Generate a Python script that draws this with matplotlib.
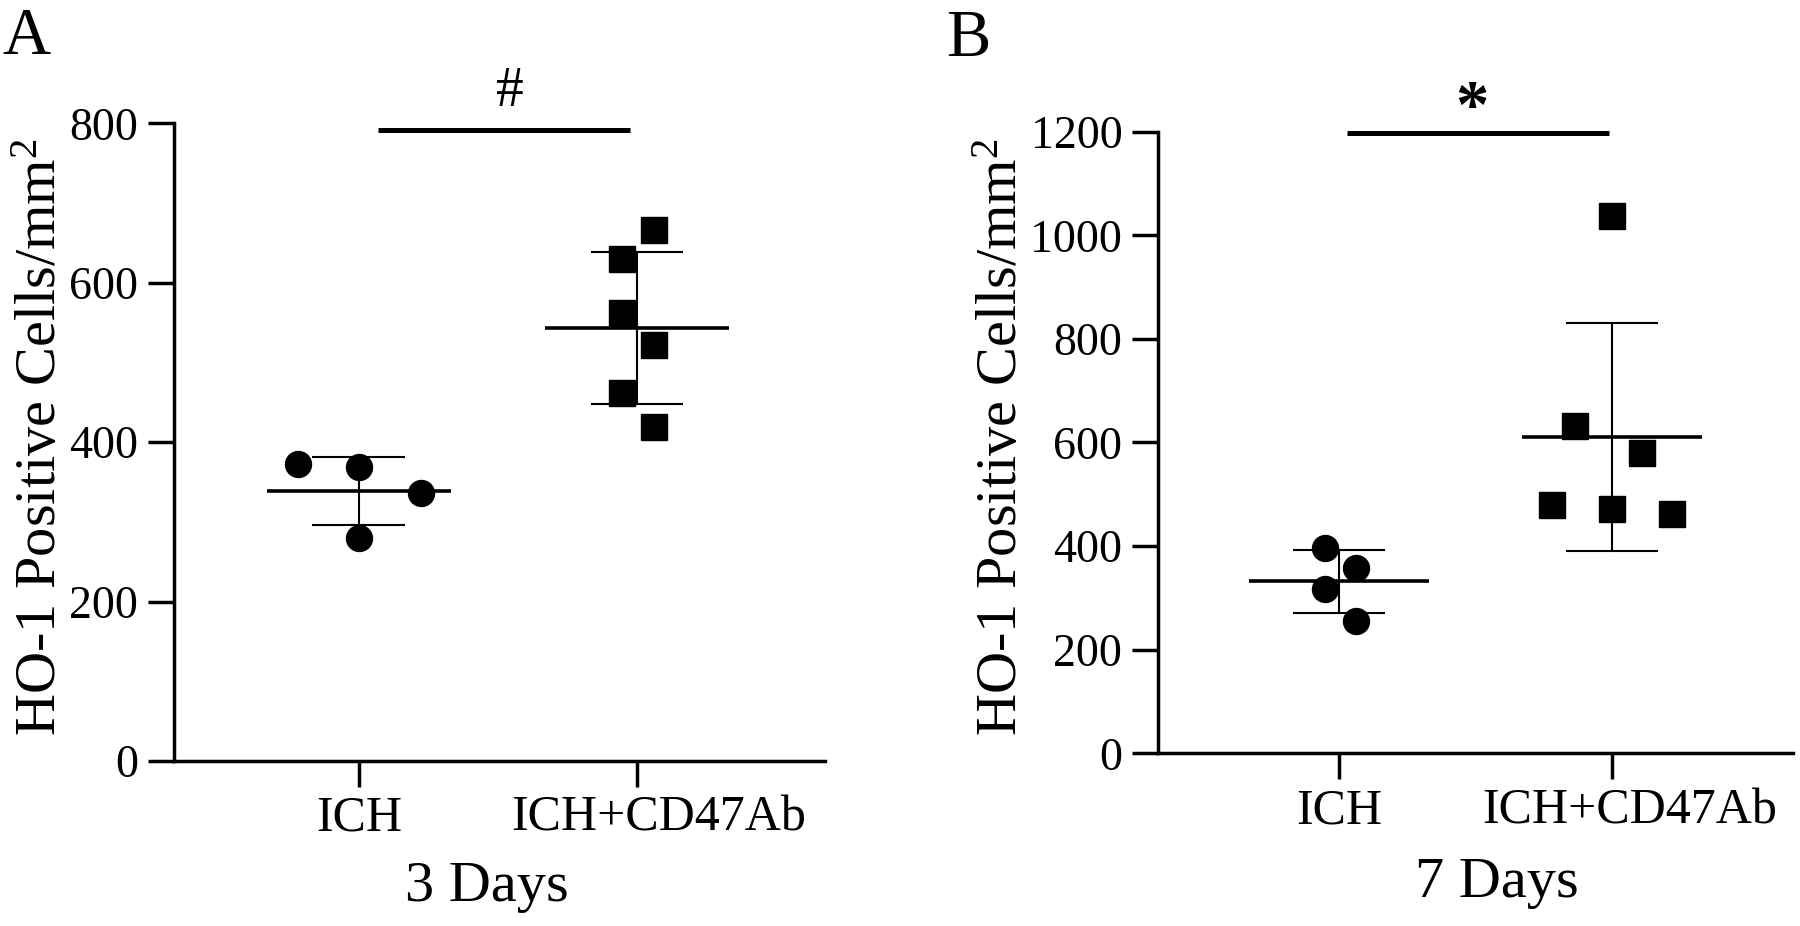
import numpy as np
import matplotlib
matplotlib.use("Agg")
import matplotlib.pyplot as plt
from matplotlib.transforms import ScaledTranslation

plt.rcParams['font.family'] = ['Liberation Serif', 'DejaVu Serif']
plt.rcParams['mathtext.fontset'] = 'custom'
plt.rcParams['mathtext.rm'] = 'Liberation Serif'
plt.rcParams['mathtext.it'] = 'Liberation Serif:italic'

# ---- data ----
groups = ["ICH", "ICH+CD47Ab"]
a_ich = [372, 369, 336, 280]
a_cd47 = [666, 630, 562, 522, 462, 419]
b_ich = [397, 358, 317, 256]
b_cd47 = [1037, 631, 579, 479, 472, 462]
a_yticks = [0, 200, 400, 600, 800]
b_yticks = [0, 200, 400, 600, 800, 1000, 1200]
a_xlabel = "3 Days"
b_xlabel = "7 Days"
a_sig = "#"
b_sig = "*"
ylabel = r"HO-1 Positive Cells/mm$^{\mathrm{2}}$"

# jitter (horizontal scatter offsets, in category units)
a_ich_jit = [-0.22, 0.0, 0.223, 0.0]
a_cd47_jit = [0.06, -0.055, -0.055, 0.06, -0.055, 0.06]
b_ich_jit = [-0.053, 0.063, -0.053, 0.063]
b_cd47_jit = [0.0, -0.136, 0.11, -0.22, 0.0, 0.22]

W, H = 1800, 926
fig = plt.figure(figsize=(W / 100, H / 100), dpi=100)


def px_axes(x0, x1, ytop, ybot):
    return fig.add_axes([x0 / W, 1 - ybot / H, (x1 - x0) / W, (ybot - ytop) / H])


def panel(ax, d0, d1, j0, j1, ymax, yticks, xlim, sig, sigy, sigx, shift_px):
    for i, (vals, jit, mk) in enumerate([(d0, j0, 'o'), (d1, j1, 's')]):
        v = np.array(vals, float)
        m, sd = v.mean(), v.std(ddof=1)
        ax.plot(i + np.array(jit), v, linestyle='none', marker=mk, ms=18.7,
                color='black', zorder=3, clip_on=False)
        ax.plot([i - 0.33, i + 0.33], [m, m], color='black', lw=2.6, zorder=4,
                solid_capstyle='butt')
        ax.plot([i, i], [m - sd, m + sd], color='black', lw=1.5, zorder=2)
        for yy in (m - sd, m + sd):
            ax.plot([i - 0.167, i + 0.167], [yy, yy], color='black', lw=1.5,
                    zorder=2, solid_capstyle='butt')
    ax.plot(sigx, [sigy, sigy], color='black', lw=3.6, clip_on=False,
            solid_capstyle='butt')
    ax.set_xlim(*xlim)
    ax.set_ylim(0, ymax)
    ax.set_yticks(yticks)
    ax.set_xticks([0, 1])
    ax.set_xticklabels(groups)
    for s in ('top', 'right'):
        ax.spines[s].set_visible(False)
    for s in ('left', 'bottom'):
        ax.spines[s].set_linewidth(2.5)
    ax.tick_params(axis='both', length=18.7, width=2.5, labelsize=33, pad=7)
    ax.tick_params(axis='x', pad=6, labelsize=36)
    lab = ax.get_xticklabels()[1]
    lab.set_transform(lab.get_transform() + ScaledTranslation(shift_px / 100, 0, fig.dpi_scale_trans))


axA = px_axes(174, 825, 123.3, 761)
panel(axA, a_ich, a_cd47, a_ich_jit, a_cd47_jit, 800, a_yticks,
      (-0.665, 1.676), a_sig, 791, [0.068, 0.975], 22)
axB = px_axes(1158, 1793, 131.7, 753.3)
panel(axB, b_ich, b_cd47, b_ich_jit, b_cd47_jit, 1200, b_yticks,
      (-0.663, 1.663), b_sig, 1197, [0.03, 0.99], 18)

# significance symbols
fig.text(510 / W, 1 - 92 / H, a_sig, ha='center', va='center', fontsize=40)
fig.text(1472 / W, 1 - 110 / H, b_sig, ha='center', va='center', fontsize=48,
         fontweight='bold')

# axis labels
fig.text(42 / W, 1 - 437 / H, ylabel, rotation=90, ha='center', va='center', fontsize=42)
fig.text(1003 / W, 1 - 437 / H, ylabel, rotation=90, ha='center', va='center', fontsize=42)
fig.text(487 / W, 1 - 887 / H, a_xlabel, ha='center', va='center', fontsize=42)
fig.text(1497 / W, 1 - 883 / H, b_xlabel, ha='center', va='center', fontsize=42)

# panel letters
fig.text(2 / W, 1 - 54 / H, "A", ha='left', va='baseline', fontsize=48)
fig.text(946 / W, 1 - 56 / H, "B", ha='left', va='baseline', fontsize=48)

fig.savefig("out.png", dpi=100, facecolor='white')
